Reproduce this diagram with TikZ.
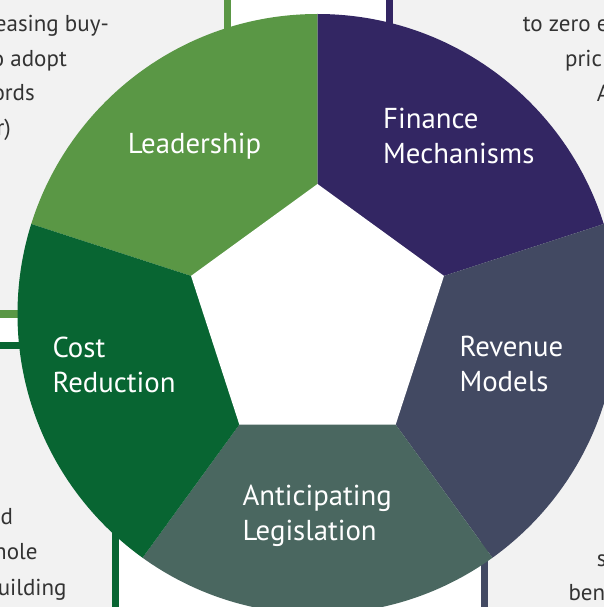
\documentclass[tikz,border=0pt]{standalone}
\usepackage{fontspec}
\setmainfont{PT Sans}
\definecolor{lgreen}{RGB}{90,151,69}
\definecolor{dgreen}{RGB}{8,101,50}
\definecolor{npurple}{RGB}{51,38,99}
\definecolor{nslate}{RGB}{66,73,98}
\definecolor{nteal}{RGB}{74,103,96}
\definecolor{panel}{RGB}{242,242,242}

\begin{document}
\begin{tikzpicture}[x=1pt,y=-1pt,
    seg/.style={text=white, align=left, inner sep=0pt, anchor=base west,
        font=\fontsize{28.8}{35}\selectfont},
    frag/.style={text=black!80, inner sep=0pt, font=\fontsize{23}{35}\selectfont},
    rim/.style={line width=7.5pt}]
    \useasboundingbox (0,0) rectangle (604,607);

    \fill[panel] (0,0) rectangle (227.5,314);
    \draw[rim, lgreen] (227.5,0) |- (0,314);
    \fill[panel] (0,345.3) rectangle (115.5,607);
    \draw[rim, dgreen] (0,345.3) -| (115.5,607);
    \fill[panel] (389.5,0) rectangle (604,314);
    \draw[rim, npurple] (389.5,0) -- (389.5,314);
    \fill[panel] (484.5,345.3) rectangle (604,607);
    \draw[rim, nslate] (484.5,607) -- (484.5,345.3);

    \begin{scope}
        \clip (317.5,314) circle (300pt);
        \begin{scope}[shift={(317.5,317)}]
            \fill[lgreen] (0,0) -- (198:700) -- (270:700) -- cycle;
            \fill[npurple] (0,0) -- (270:700) -- (342:700) -- cycle;
            \fill[nslate] (0,0) -- (342:700) -- (414:700) -- cycle;
            \fill[nteal] (0,0) -- (54:700) -- (126:700) -- cycle;
            \fill[dgreen] (0,0) -- (126:700) -- (198:700) -- cycle;
            \fill[white] (270:133) -- (342:133) -- (54:133) -- (126:133) -- (198:133) -- cycle;
        \end{scope}
    \end{scope}

    % two-line labels sit on the baseline of their last line
    \node[seg] (lead) at (127.7,153) {Leadership};
    \node[seg] (fin) at (383,163) {Finance\\Mechanisms};
    \node[seg] (rev) at (459.3,391.7) {Revenue\\Models};
    \node[seg] (legis) at (242.3,540.7) {Anticipating\\Legislation};
    \node[seg] (cost) at (52.3,392.3) {Cost\\Reduction};

    \node[frag, anchor=base east] (tl1) at (109,32) {easing buy-};
    \node[frag, anchor=base east] (tl2) at (67,66.5) {o adopt};
    \node[frag, anchor=base east] (tl3) at (35,101) {ords};
    \node[frag, anchor=base east] (tl4) at (11,135.5) {r)};
    \node[frag, anchor=base west] (tr1) at (522.7,32) {to zero e};
    \node[frag, anchor=base west] (tr2) at (565,67) {pric};
    \node[frag, anchor=base west] (tr3) at (596.7,102) {A};
    \node[frag, anchor=base east] (bl1) at (13.3,524) {d};
    \node[frag, anchor=base east] (bl2) at (37.7,559) {hole};
    \node[frag, anchor=base east] (bl3) at (66.7,595) {uilding};
    \node[frag, anchor=base west] (br1) at (596.7,566) {s};
    \node[frag, anchor=base west] (br2) at (568.3,600) {ben};
\end{tikzpicture}
\end{document}
